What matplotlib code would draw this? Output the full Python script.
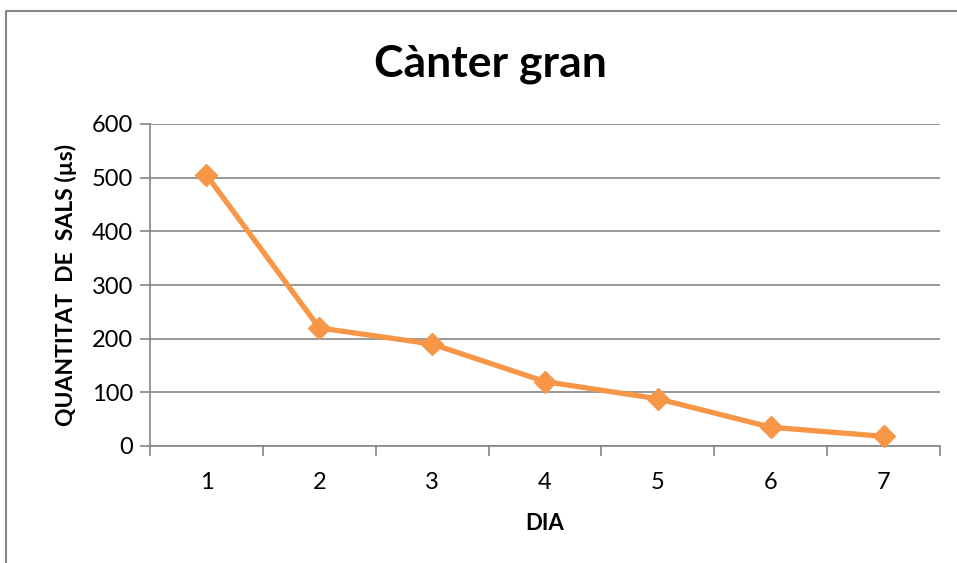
import matplotlib
matplotlib.use("Agg")
import matplotlib.pyplot as plt
from matplotlib.lines import Line2D

days = [1, 2, 3, 4, 5, 6, 7]
day_labels = ["1", "2", "3", "4", "5", "6", "7"]
values = [505, 220, 190, 120, 88, 35, 18]

plt.rcParams['font.family'] = ['Lato', 'DejaVu Sans']

W, H = 957, 563
fig = plt.figure(figsize=(W / 100, H / 100), dpi=100)
ax = fig.add_axes([150 / W, 1 - 446 / H, (940 - 150) / W, (446 - 124) / H])

ax.plot(days, values, color='#F79646', lw=3.8, marker='D', markersize=11.5,
        markeredgecolor='#F79646', zorder=3, clip_on=False)

ax.set_xlim(0.5, 7.5)
ax.set_ylim(0, 600)
ax.set_yticks(range(0, 601, 100))
ax.yaxis.grid(True, color='#868686', lw=1.2)
ax.set_axisbelow(True)

ax.set_xticks([i + 0.5 for i in range(0, 8)])
ax.set_xticklabels([])
ax.set_xticks(days, minor=True)
ax.set_xticklabels(day_labels, minor=True)
ax.tick_params(axis='x', which='major', length=7, color='#868686', width=1.2)
ax.tick_params(axis='x', which='minor', length=0, labelsize=17, pad=19)
ax.tick_params(axis='y', length=7, color='#868686', width=1.2, labelsize=17, pad=5)

for s in ['top', 'right']:
    ax.spines[s].set_visible(False)
for s in ['left', 'bottom']:
    ax.spines[s].set_color('#868686')
    ax.spines[s].set_linewidth(1.2)

ax.set_xlabel('DIA', fontsize=16, fontweight='bold', labelpad=14)
ax.set_ylabel('QUANTITAT  DE  SALS (µs)', fontsize=16.5, fontweight='bold', labelpad=11)

fig.text(490 / W, 1 - 64 / H, 'Cànter gran', fontsize=32, fontweight='bold',
         ha='center', va='center')

# outer chart border (top and left visible)
fig.add_artist(Line2D([6 / W, 6 / W, 1.0], [0.0, 1 - 11 / H, 1 - 11 / H],
                      transform=fig.transFigure, color='#868686', lw=1.5))

fig.savefig('out.png', dpi=100)
